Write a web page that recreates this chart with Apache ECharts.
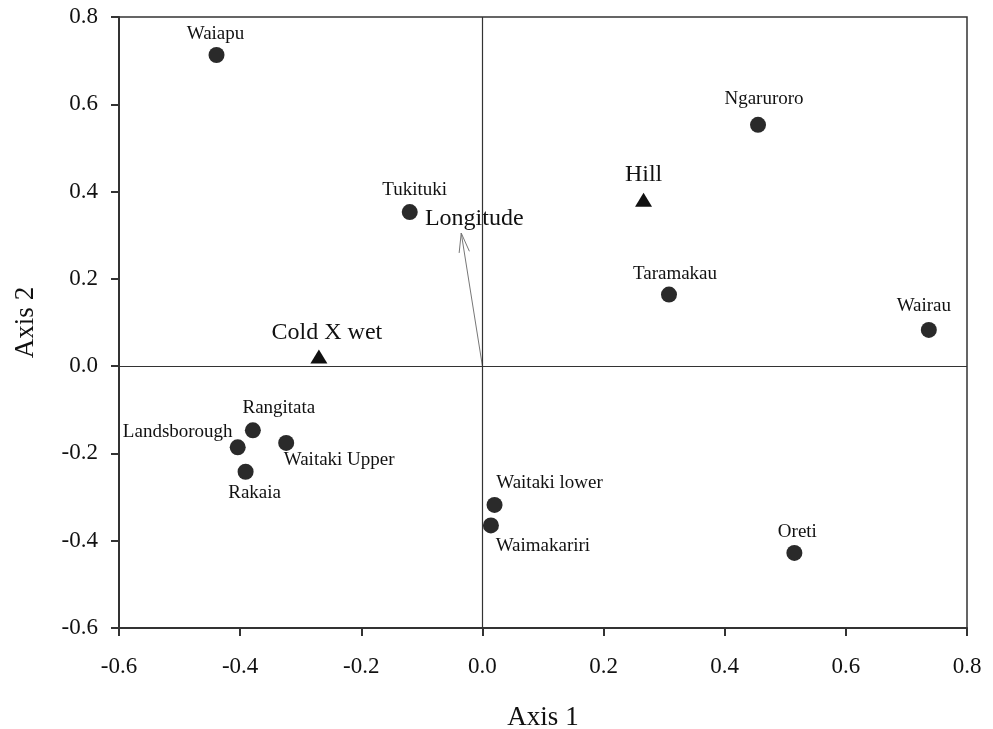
<!DOCTYPE html>
<html>
<head>
<meta charset="utf-8">
<script src="https://cdn.jsdelivr.net/npm/echarts@6/dist/echarts.min.js"></script>
<style>
html,body{margin:0;padding:0;background:#fff;}
#chart{width:993px;height:729px;}
</style>
</head>
<body>
<div id="chart"></div>
<script>
// ---- Data ----
const siteNames = ["Waiapu","Tukituki","Ngaruroro","Taramakau","Wairau","Oreti","Waitaki lower","Waimakariri","Rangitata","Landsborough","Waitaki Upper","Rakaia"];
const siteAxis1 = [-0.439,-0.120,0.455,0.308,0.737,0.515,0.020,0.014,-0.379,-0.404,-0.324,-0.391];
const siteAxis2 = [0.713,0.353,0.553,0.164,0.083,-0.428,-0.318,-0.365,-0.147,-0.186,-0.176,-0.242];

const factorNames = ["Hill","Cold X wet"];
const factorAxis1 = [0.266,-0.270];
const factorAxis2 = [0.381,0.022];

const vectorName = "Longitude";
const vectorAxis1 = -0.035;
const vectorAxis2 = 0.305;

const xTicks = [-0.6,-0.4,-0.2,0.0,0.2,0.4,0.6,0.8];
const yTicks = [-0.6,-0.4,-0.2,0.0,0.2,0.4,0.6,0.8];

// ---- Label placement (style, offsets from marker centre in px) ----
const siteLabelOffset = {
  "Waiapu":[-1,-21],"Tukituki":[5,-22],"Ngaruroro":[6,-26],"Taramakau":[6,-21],
  "Wairau":[-5,-24],"Oreti":[3,-21],"Waitaki lower":[55,-22],"Waimakariri":[52,21],
  "Rangitata":[26,-22],"Landsborough":[-60,-15],"Waitaki Upper":[53,17],"Rakaia":[9,21]
};
const factorLabelOffset = {"Hill":[0,-25],"Cold X wet":[8,-24]};

const FONT = "Liberation Serif";
const TXT = "#111";
const MARK = "#2a2a2a";

const chart = echarts.init(document.getElementById('chart'));

const siteData = siteNames.map((n,i)=>({
  name:n, value:[siteAxis1[i], siteAxis2[i]],
  label:{show:true, position:'inside', offset:siteLabelOffset[n], formatter:'{b}',
    fontFamily:FONT, fontSize:19, color:TXT, align:'center', verticalAlign:'middle'}
}));
const factorData = factorNames.map((n,i)=>({
  name:n, value:[factorAxis1[i], factorAxis2[i]],
  label:{show:true, position:'inside', offset:factorLabelOffset[n], formatter:'{b}',
    fontFamily:FONT, fontSize:24, color:TXT, align:'center', verticalAlign:'middle'}
}));

const fmt = v => (Math.round(v*10)/10).toFixed(1);

chart.setOption({
  backgroundColor:'#fff',
  animation:false,
  grid:{left:119, right:26, top:17, bottom:101, containLabel:false, outerBoundsMode:'none',
    show:true, borderColor:'#333', borderWidth:1.5, backgroundColor:'transparent'},
  xAxis:{
    type:'value', min:-0.6, max:0.8, interval:0.2,
    name:'Axis 1', nameLocation:'middle', nameGap:76,
    nameTextStyle:{fontFamily:FONT, fontSize:27, color:TXT},
    axisLine:{show:true, onZero:false, lineStyle:{color:'#333', width:2}},
    axisTick:{show:true, inside:false, length:8, lineStyle:{color:'#333', width:2}},
    axisLabel:{margin:27, fontFamily:FONT, fontSize:23, color:TXT, formatter:fmt},
    splitLine:{show:false}
  },
  yAxis:{
    type:'value', min:-0.6, max:0.8, interval:0.2,
    name:'Axis 2', nameLocation:'middle', nameGap:80,
    nameTextStyle:{fontFamily:FONT, fontSize:27, color:TXT},
    axisLine:{show:true, onZero:false, lineStyle:{color:'#333', width:2}},
    axisTick:{show:true, inside:false, length:8, lineStyle:{color:'#333', width:2}},
    axisLabel:{margin:21, fontFamily:FONT, fontSize:23, color:TXT, formatter:fmt},
    splitLine:{show:false}
  },
  series:[
    {
      type:'scatter', name:'zero', data:[],
      markLine:{silent:true, symbol:['none','none'], label:{show:false},
        lineStyle:{color:'#333', width:1.2, type:'solid'},
        data:[{xAxis:0},{yAxis:0}]}
    },
    {
      type:'custom', name:'vector',
      data:[[vectorAxis1, vectorAxis2]],
      renderItem:function(params, api){
        const o = api.coord([0,0]);
        const t = api.coord([api.value(0), api.value(1)]);
        const dx = o[0]-t[0], dy = o[1]-t[1];
        const L = Math.sqrt(dx*dx+dy*dy);
        const ux = dx/L, uy = dy/L;
        const len = 20, ang = 15*Math.PI/180;
        const c = Math.cos(ang), s = Math.sin(ang);
        const a1 = [t[0]+len*(ux*c - uy*s), t[1]+len*(ux*s + uy*c)];
        const a2 = [t[0]+len*(ux*c + uy*s), t[1]+len*(-ux*s + uy*c)];
        return {type:'group', children:[
          {type:'line', shape:{x1:o[0],y1:o[1],x2:t[0],y2:t[1]}, style:{stroke:'#777', lineWidth:1}},
          {type:'polyline', shape:{points:[a1,t,a2]}, style:{stroke:'#777', lineWidth:1, fill:null}},
          {type:'text', x:t[0]+13, y:t[1]-14, style:{text:vectorName, font:'24px "'+FONT+'"', fill:TXT, align:'center', verticalAlign:'middle'}}
        ]};
      }
    },
    {
      type:'scatter', name:'sites', symbol:'circle', symbolSize:16,
      itemStyle:{color:MARK, opacity:1}, data:siteData
    },
    {
      type:'scatter', name:'factors', symbol:'triangle', symbolSize:[17,14],
      itemStyle:{color:'#111', opacity:1}, data:factorData
    }
  ]
});
</script>
</body>
</html>
